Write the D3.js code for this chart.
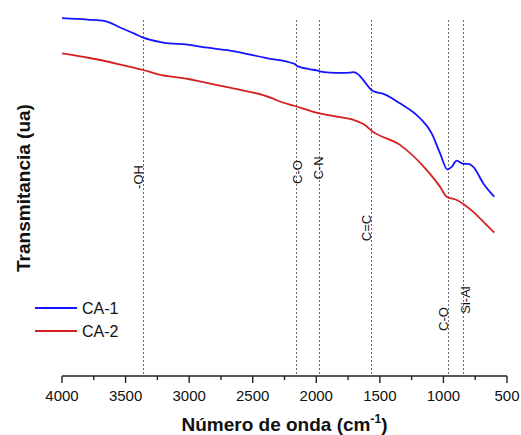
<!DOCTYPE html>
<html>
<head>
<meta charset="utf-8">
<script src="https://cdn.jsdelivr.net/npm/d3@7"></script>
<style>
  body { margin: 0; background: #fff; }
  text { font-family: "Liberation Sans", Arial, sans-serif; fill: #111; }
</style>
</head>
<body>
<div id="chart"></div>
<script>
// wavenumber (cm-1) vs transmittance (arbitrary units)
var ca1_wave = [4000, 3800, 3662, 3530, 3430, 3361, 3216, 2980, 2901, 2679, 2390, 2180, 2167, 2155, 2049, 1984, 1975, 1892, 1800, 1735, 1709, 1656, 1630, 1564, 1525, 1485, 1342, 1184, 1092, 1027, 969, 935, 896, 844, 804, 765, 686, 600];
var ca1_val  = [99.4, 99.0, 98.6, 96.6, 95.1, 94.0, 92.7, 91.9, 91.4, 90.4, 88.3, 86.8, 86.6, 86.2, 85.2, 84.8, 84.6, 84.25, 84.2, 84.25, 84.4, 83.3, 82.2, 79.4, 78.8, 78.5, 75.75, 71.6, 67.4, 61.9, 57.4, 58.1, 59.8, 58.9, 58.9, 58.1, 53.5, 49.8];

var ca2_wave = [4000, 3793, 3662, 3530, 3361, 3243, 3007, 2889, 2679, 2351, 2330, 2311, 2167, 1984, 1813, 1735, 1682, 1617, 1564, 1342, 1131, 1027, 974, 896, 844, 765, 660, 600];
var ca2_val  = [89.6, 88.4, 87.5, 86.4, 85.0, 83.8, 82.5, 81.6, 80.1, 77.2, 76.9, 76.6, 75.0, 73.0, 71.9, 71.4, 70.8, 69.7, 68.1, 64.2, 57.2, 52.6, 49.8, 48.9, 47.8, 45.6, 41.9, 39.8];

var bands = [3360, 2162, 1975, 1570, 967, 843];
var band_labels = ["-OH", "C-O", "C-N", "C=C", "C-O", "Si-Al"];

var series_names = ["CA-1", "CA-2"];
var series_colors = ["#1414ff", "#d42020"];

var x_ticks = [4000, 3500, 3000, 2500, 2000, 1500, 1000, 500];

var width = 521, height = 435;
var plot_left = 62, plot_right = 507, plot_top = 16, plot_bottom = 376;

var svg = d3.select("#chart").append("svg")
    .attr("width", width)
    .attr("height", height);

var x = d3.scaleLinear().domain([4000, 500]).range([plot_left, plot_right]);
var y = d3.scaleLinear().domain([0, 100]).range([plot_bottom, plot_top]);

// band marker lines
var label_pos = [
  {dx: 0, y: 177}, {dx: 6, y: 172}, {dx: 4, y: 168},
  {dx: 0, y: 228}, {dx: 0, y: 319}, {dx: 7, y: 300}
];

svg.selectAll(".band").data(bands).enter()
    .append("line")
    .attr("class", "band")
    .attr("x1", function(d) { return Math.round(x(d)) + 0.5; })
    .attr("x2", function(d) { return Math.round(x(d)) + 0.5; })
    .attr("y1", 20)
    .attr("y2", plot_bottom)
    .attr("stroke", "#666")
    .attr("stroke-width", 1)
    .attr("stroke-dasharray", "2,2");

svg.selectAll(".blabel").data(bands).enter()
    .append("text")
    .attr("class", "blabel")
    .attr("transform", function(d, i) {
        return `translate(${x(d) + label_pos[i].dx}, ${label_pos[i].y}) rotate(-90)`;
    })
    .style("text-anchor", "middle")
    .style("font-size", "13px")
    .text(function(d, i) { return band_labels[i]; });

// spectra
var line = d3.line()
    .x(function(d) { return x(d[0]); })
    .y(function(d) { return y(d[1]); })
    .curve(d3.curveMonotoneX);

var spectra = [d3.zip(ca1_wave, ca1_val), d3.zip(ca2_wave, ca2_val)];

svg.selectAll(".spec").data(spectra).enter()
    .append("path")
    .attr("class", "spec")
    .attr("d", function(d) { return line(d); })
    .attr("fill", "none")
    .attr("stroke", function(d, i) { return series_colors[i]; })
    .attr("stroke-width", 1.8)
    .attr("stroke-linejoin", "round");

// x axis
var axis = svg.append("g")
    .attr("transform", `translate(0, ${plot_bottom})`);

axis.append("line")
    .attr("x1", plot_left).attr("x2", plot_right)
    .attr("y1", 0).attr("y2", 0)
    .attr("stroke", "#222")
    .attr("stroke-width", 1.6);

var minor = d3.range(3750, 500, -500);
axis.selectAll(".minor").data(minor).enter()
    .append("line")
    .attr("x1", function(d) { return x(d); })
    .attr("x2", function(d) { return x(d); })
    .attr("y1", 0).attr("y2", 4)
    .attr("stroke", "#222").attr("stroke-width", 1.4);

axis.selectAll(".major").data(x_ticks).enter()
    .append("line")
    .attr("x1", function(d) { return x(d); })
    .attr("x2", function(d) { return x(d); })
    .attr("y1", 0).attr("y2", 7)
    .attr("stroke", "#222").attr("stroke-width", 1.4);

axis.selectAll(".tlabel").data(x_ticks).enter()
    .append("text")
    .attr("x", function(d) { return x(d); })
    .attr("y", 25)
    .style("text-anchor", "middle")
    .style("font-size", "15px")
    .text(function(d) { return d; });

// axis titles
var xt = svg.append("text")
    .attr("x", (plot_left + plot_right) / 2)
    .attr("y", 431)
    .style("text-anchor", "middle")
    .style("font-size", "19px")
    .style("font-weight", "bold");
xt.append("tspan").text("Número de onda (cm");
xt.append("tspan").attr("dy", -8).style("font-size", "12px").text("-1");
xt.append("tspan").attr("dy", 8).text(")");

svg.append("text")
    .attr("transform", "translate(30, 188) rotate(-90)")
    .style("text-anchor", "middle")
    .style("font-size", "19px")
    .style("font-weight", "bold")
    .text("Transmitancia (ua)");

// legend
var legend = svg.selectAll(".leg").data(series_names).enter()
    .append("g")
    .attr("transform", function(d, i) { return `translate(35, ${308 + i * 23})`; });

legend.append("line")
    .attr("x1", 0).attr("x2", 42)
    .attr("y1", 0).attr("y2", 0)
    .attr("stroke", function(d, i) { return series_colors[i]; })
    .attr("stroke-width", 1.8);

legend.append("text")
    .attr("x", 47)
    .attr("y", 6)
    .style("font-size", "16px")
    .text(function(d) { return d; });
</script>
</body>
</html>
